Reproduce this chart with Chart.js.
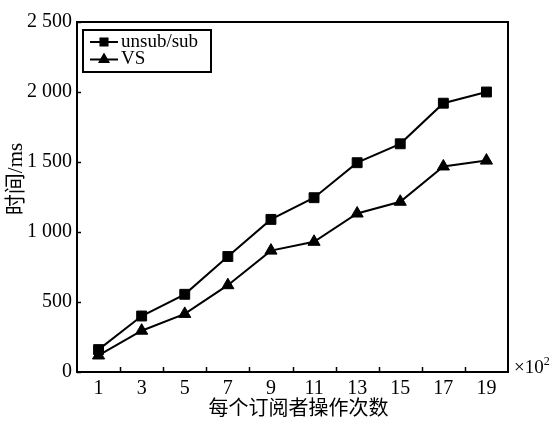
<!DOCTYPE html>
<html>
<head>
<meta charset="utf-8">
<script src="https://cdn.jsdelivr.net/npm/chart.js@4/dist/chart.umd.min.js"></script>
<style>
  html, body { margin: 0; padding: 0; background: #fff; }
  #wrap { width: 552px; height: 424px; }
</style>
</head>
<body>
<div id="wrap"><canvas id="c" width="552" height="424"></canvas></div>
<script>
// Operations per subscriber (x 10^2)
const opCounts = [1, 3, 5, 7, 9, 11, 13, 15, 17, 19];
// Response time (ms)
const unsubSubTimes = [160, 400, 555, 825, 1090, 1245, 1495, 1630, 1920, 2000];
const vsTimes = [118, 295, 415, 620, 867, 930, 1132, 1216, 1468, 1510];
// Axis ticks
const yTickValues = [0, 500, 1000, 1500, 2000, 2500];
const xMarkValues = [2, 4, 6, 8, 10, 12, 14, 16, 18];
const seriesLabels = ['unsub/sub', 'VS'];
const xTitle = '每个订阅者操作次数';
const yTitle = '时间/ms';

const FONT = "'Liberation Serif', 'Noto Sans CJK SC', serif";

function fmtThousands(v) {
  const s = String(v);
  return s.length > 3 ? s.slice(0, s.length - 3) + ' ' + s.slice(-3) : s;
}

const frameAndDecor = {
  id: 'frameAndDecor',
  afterDraw(chart) {
    const { ctx, chartArea: a, scales } = chart;
    const xs = scales.x, ys = scales.y;
    ctx.save();
    ctx.strokeStyle = '#000';
    ctx.fillStyle = '#000';

    // plot frame
    ctx.lineWidth = 2;
    ctx.strokeRect(a.left, a.top, a.right - a.left, a.bottom - a.top);

    // inward tick marks
    ctx.lineWidth = 1.5;
    ctx.beginPath();
    xMarkValues.forEach(v => {
      const px = Math.round(xs.getPixelForValue(v)) + 0.5;
      ctx.moveTo(px, a.bottom);
      ctx.lineTo(px, a.bottom - 5);
    });
    yTickValues.forEach(v => {
      const py = Math.round(ys.getPixelForValue(v)) + 0.5;
      ctx.moveTo(a.left, py);
      ctx.lineTo(a.left + 4, py);
    });
    ctx.stroke();

    // axis titles
    ctx.textAlign = 'center';
    ctx.textBaseline = 'middle';
    ctx.font = '20px ' + FONT;
    ctx.fillText(xTitle, (a.left + a.right) / 2 + 6, 410);
    ctx.save();
    ctx.translate(16, 179);
    ctx.rotate(-Math.PI / 2);
    ctx.font = '21px ' + FONT;
    ctx.fillText(yTitle, 0, 0);
    ctx.restore();

    // x-axis multiplier
    ctx.textAlign = 'left';
    ctx.font = '19px ' + FONT;
    ctx.fillText('\u00d710', a.right + 6, 368);
    const w = ctx.measureText('\u00d710').width;
    ctx.font = '12px ' + FONT;
    ctx.fillText('2', a.right + 6 + w, 362);

    // legend box
    const lx = 83, ly = 30, lw = 128, lh = 42;
    ctx.lineWidth = 2;
    ctx.strokeRect(lx, ly, lw, lh);
    ctx.font = '19px ' + FONT;
    ctx.textBaseline = 'middle';
    chart.data.datasets.forEach((ds, i) => {
      const cy = 42 + i * 17.5;
      ctx.lineWidth = 2;
      ctx.beginPath();
      ctx.moveTo(90, cy);
      ctx.lineTo(118, cy);
      ctx.stroke();
      Chart.helpers.drawPoint(ctx, {
        pointStyle: ds.pointStyle,
        radius: 5,
        borderWidth: 1
      }, 104, cy);
      ctx.fillText(ds.label, 121, cy);
    });
    ctx.restore();
  }
};

new Chart(document.getElementById('c'), {
  type: 'line',
  data: {
    datasets: [
      {
        label: seriesLabels[0],
        data: opCounts.map((x, i) => ({ x, y: unsubSubTimes[i] })),
        borderColor: '#000',
        backgroundColor: '#000',
        borderWidth: 2,
        pointStyle: 'rect',
        pointRadius: 7,
        pointBorderWidth: 1,
        tension: 0
      },
      {
        label: seriesLabels[1],
        data: opCounts.map((x, i) => ({ x, y: vsTimes[i] })),
        borderColor: '#000',
        backgroundColor: '#000',
        borderWidth: 2,
        pointStyle: 'triangle',
        pointRadius: 7,
        pointBorderWidth: 1,
        tension: 0
      }
    ]
  },
  options: {
    responsive: false,
    animation: false,
    devicePixelRatio: 1,
    layout: { padding: { top: 22, right: 44, left: 0, bottom: 0 } },
    plugins: {
      legend: { display: false },
      tooltip: { enabled: false }
    },
    scales: {
      x: {
        type: 'linear',
        min: 0,
        max: 20,
        afterBuildTicks: s => { s.ticks = opCounts.map(v => ({ value: v })); },
        afterFit: s => { s.height = 52; },
        grid: { display: false, drawTicks: false },
        border: { display: false },
        ticks: {
          color: '#000',
          font: { family: FONT, size: 20 },
          padding: 5,
          maxRotation: 0,
          autoSkip: false
        }
      },
      y: {
        min: 0,
        max: 2500,
        afterBuildTicks: s => { s.ticks = yTickValues.map(v => ({ value: v })); },
        afterFit: s => { s.width = 77; },
        grid: { display: false, drawTicks: false },
        border: { display: false },
        ticks: {
          color: '#000',
          font: { family: FONT, size: 20 },
          padding: 5,
          callback: v => fmtThousands(v)
        }
      }
    }
  },
  plugins: [frameAndDecor]
});
</script>
</body>
</html>
